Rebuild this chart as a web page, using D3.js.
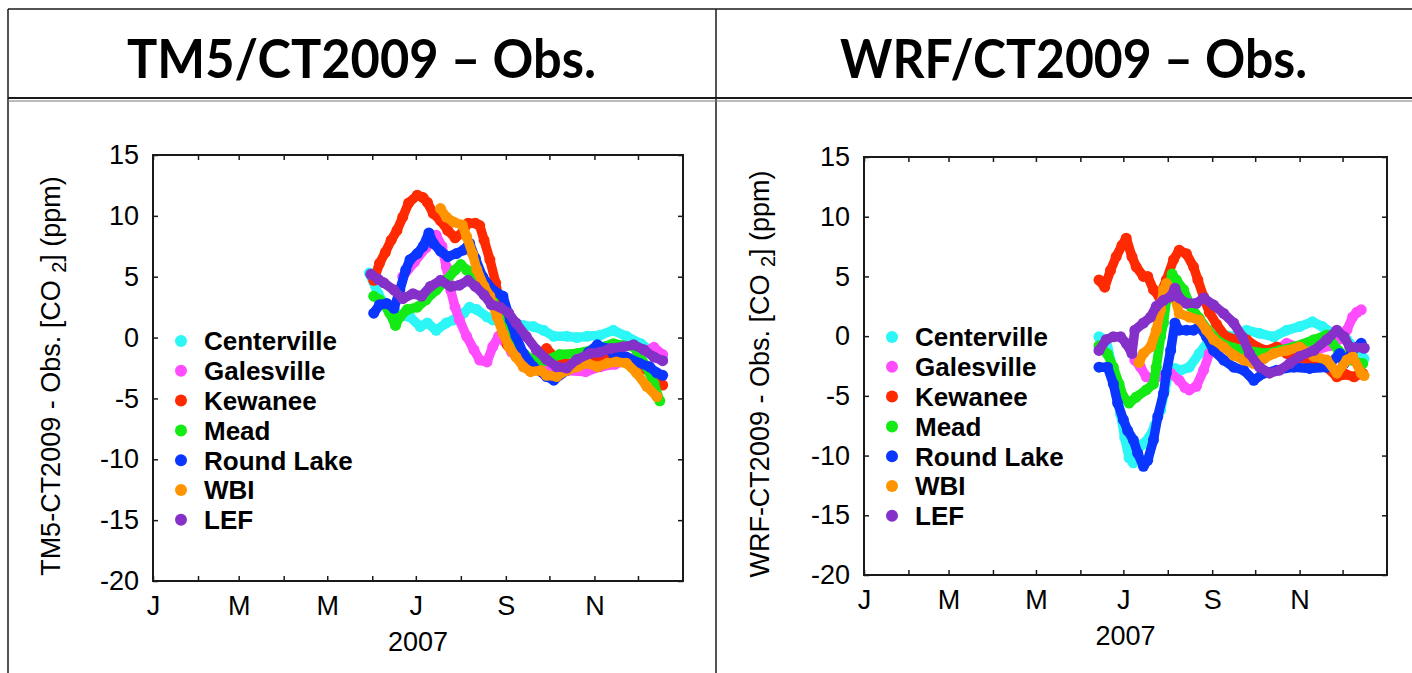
<!DOCTYPE html>
<html><head><meta charset="utf-8">
<script src="https://cdn.jsdelivr.net/npm/d3@7"></script>
<style>body{margin:0;background:#fff}svg{display:block}</style>
</head><body>
<svg id="c" width="1412" height="673"></svg>
<script>
// ---------- data ----------
const monthLetters = ["J","F","M","A","M","J","J","A","S","O","N","D"];
const yTicks = [-20,-15,-10,-5,0,5,10,15];
const yearLabel = "2007";
const stations = ["Centerville","Galesville","Kewanee","Mead","Round Lake","WBI","LEF"];
const stationColors = ["#2cf6f6","#ff4cff","#ff2a00","#14ea14","#0a36ff","#ff9400","#8530c8"];
const titles = ["TM5/CT2009 \u2013 Obs.","WRF/CT2009 \u2013 Obs."];
const yLabelModels = ["TM5-CT2009","WRF-CT2009"];

// values: [day of year 2007 (0 = Jan 1), model - obs (ppm)]
const tm5Centerville = [[149,5.3],[155,3.6],[162,2.3],[170,1.8],[177,1.7],[184,0.9],[189,1.2],[195,0.6],[202,1.2],[207,1.45],[214,2.0],[218,2.5],[223,2.3],[230,1.7],[234,1.45],[240,1.3],[248,1.2],[255,1.0],[262,0.9],[269,0.6],[276,0.1],[285,0.1],[292,0.0],[299,0.1],[308,0.2],[317,0.6],[326,0.1],[336,-0.5],[345,-1.3],[351,-1.6]];
const tm5Galesville = [[172,5.0],[180,6.2],[188,7.4],[195,8.4],[199,7.5],[202,5.8],[205,3.9],[208,2.5],[211,1.45],[216,0.1],[221,-1.0],[225,-1.85],[230,-2.0],[234,-0.75],[238,0.1],[242,-0.3],[247,-1.2],[255,-2.0],[265,-2.4],[275,-2.6],[285,-2.7],[298,-2.8],[308,-2.4],[318,-2.2],[328,-1.8],[338,-1.2],[345,-0.8],[351,-1.4]];
const tm5Kewanee = [[152,4.7],[156,6.1],[160,7.0],[164,8.0],[168,8.8],[172,9.9],[176,11.05],[182,11.7],[186,11.5],[189,11.1],[193,10.2],[198,9.6],[203,8.8],[208,8.2],[213,8.6],[217,9.4],[222,9.4],[225,9.2],[228,8.0],[232,6.4],[236,4.5],[239,2.5],[241,0.5],[244,-0.6],[250,-1.3],[258,-2.0],[265,-1.6],[271,-0.9],[278,-1.8],[288,-2.2],[298,-1.9],[308,-1.7],[318,-1.8],[328,-2.0],[336,-2.4],[344,-3.0],[351,-3.9]];
const tm5Mead = [[152,3.4],[156,3.1],[160,2.6],[163,2.0],[167,1.0],[170,1.7],[175,2.3],[182,2.5],[188,3.1],[195,3.9],[202,4.7],[208,5.55],[212,6.0],[216,5.55],[222,5.3],[228,4.2],[234,3.0],[240,1.5],[245,0.3],[250,-0.75],[256,-1.4],[262,-1.85],[270,-1.9],[280,-1.4],[292,-1.3],[303,-1.0],[317,-0.5],[331,-0.75],[340,-2.4],[345,-3.8],[349,-5.2]];
const tm5RoundLake = [[152,2.0],[156,2.7],[161,2.8],[166,2.4],[170,3.9],[174,5.55],[177,6.4],[182,6.9],[186,7.5],[190,8.6],[193,7.75],[198,7.1],[203,6.65],[209,6.9],[214,7.2],[218,7.75],[222,6.5],[227,5.0],[234,3.9],[241,3.4],[246,1.45],[250,0.1],[255,-1.3],[262,-2.4],[271,-3.2],[276,-3.5],[285,-2.7],[294,-2.1],[300,-1.2],[306,-0.6],[312,-0.9],[317,-1.3],[326,-1.6],[335,-2.1],[342,-2.4],[347,-2.9],[351,-3.1]];
const tm5WBI = [[198,10.6],[202,9.9],[207,9.5],[213,9.25],[216,8.3],[220,6.9],[223,5.6],[228,4.2],[232,3.4],[237,1.7],[241,0.35],[245,-0.75],[250,-1.6],[255,-2.4],[260,-2.8],[267,-2.7],[271,-3.1],[278,-3.2],[285,-2.7],[292,-2.4],[299,-2.1],[306,-2.4],[313,-2.1],[319,-2.0],[326,-2.1],[333,-2.9],[340,-4.0],[347,-4.85]];
const tm5LEF = [[150,5.2],[155,4.8],[159,4.5],[166,3.9],[172,3.2],[179,3.6],[185,3.4],[191,4.2],[198,4.7],[205,4.2],[211,4.3],[217,4.7],[222,4.2],[228,3.5],[233,2.7],[239,2.5],[245,2.0],[250,1.2],[257,0.1],[264,-1.0],[271,-1.8],[278,-2.4],[285,-2.5],[292,-1.8],[301,-1.3],[308,-1.2],[315,-0.9],[324,-0.75],[331,-0.6],[338,-1.0],[345,-1.6],[351,-1.9]];

const wrfCenterville = [[164,-0.05],[169,-0.3],[173,-2.5],[176,-4.5],[179,-6.5],[182,-8.5],[185,-10.2],[188,-10.6],[191,-9.5],[195,-9.0],[199,-8.5],[203,-7.5],[207,-6.2],[210,-4.5],[213,-2.8],[217,-2.7],[221,-2.85],[227,-2.6],[234,-1.45],[241,-0.3],[248,0.24],[258,-0.05],[267,0.5],[276,0.24],[286,-0.05],[295,0.5],[304,0.8],[313,1.2],[320,0.8],[327,0.24],[337,-0.3],[346,-1.45],[349,-1.9]];
const wrfGalesville = [[189,-2.0],[193,-2.6],[197,-3.4],[202,-3.6],[208,-3.3],[214,-3.1],[220,-3.7],[224,-4.3],[227,-4.5],[232,-4.2],[237,-2.85],[241,-1.45],[246,-0.6],[252,-0.6],[260,-1.2],[270,-1.6],[280,-1.4],[290,-1.0],[295,-0.6],[305,-1.0],[315,-1.2],[325,-0.8],[333,-0.2],[337,0.5],[341,1.6],[344,2.0],[347,2.2]];
const wrfKewanee = [[164,4.7],[168,4.1],[172,5.5],[176,6.65],[180,7.6],[183,8.2],[187,6.65],[190,5.8],[195,5.0],[198,5.0],[202,3.9],[206,3.3],[211,4.7],[216,6.4],[220,7.2],[225,6.9],[230,5.8],[233,4.7],[237,3.3],[241,2.0],[246,1.0],[252,0.0],[260,-0.3],[267,-0.3],[274,-0.9],[281,-1.2],[288,-0.9],[295,-1.45],[305,-1.8],[315,-2.2],[323,-2.6],[330,-3.4],[336,-3.2],[342,-3.4],[348,-3.1]];
const wrfMead = [[164,-0.8],[170,-1.5],[174,-2.6],[178,-4.0],[181,-5.1],[185,-5.6],[190,-5.1],[197,-4.5],[202,-4.0],[204,-2.6],[207,-0.05],[209,1.1],[211,3.0],[215,5.2],[218,4.7],[223,3.9],[228,2.5],[234,1.5],[240,0.5],[248,-0.5],[258,-1.0],[267,-1.2],[281,-1.45],[290,-1.2],[300,-0.9],[314,-0.3],[323,0.1],[331,-1.2],[339,-2.0],[348,-2.3]];
const wrfRoundLake = [[164,-2.6],[170,-2.6],[174,-4.0],[177,-5.6],[181,-7.0],[184,-7.9],[188,-8.7],[191,-9.8],[195,-10.9],[198,-10.4],[202,-8.7],[205,-6.75],[209,-4.8],[211,-3.1],[214,-1.2],[217,1.1],[220,0.5],[225,0.5],[230,0.5],[234,0.8],[239,-0.05],[244,-1.2],[251,-2.0],[258,-2.6],[265,-2.85],[272,-3.7],[279,-3.1],[288,-2.85],[300,-2.6],[311,-2.7],[323,-2.6],[332,-1.45],[335,-2.3],[341,-1.2],[347,-0.6],[349,-1.0]];
const wrfWBI = [[192,-2.2],[195,-1.45],[200,-0.9],[204,0.5],[207,2.2],[209,3.9],[211,4.4],[216,3.6],[220,1.9],[227,1.6],[234,1.35],[239,0.5],[244,-0.3],[251,-0.9],[258,-1.6],[265,-2.0],[272,-2.3],[279,-1.9],[286,-1.45],[295,-1.2],[304,-0.9],[314,-1.7],[323,-2.0],[330,-3.1],[337,-2.0],[341,-1.7],[347,-3.1],[349,-3.3]];
const wrfLEF = [[164,-1.2],[169,-0.3],[174,-0.05],[179,-0.05],[183,-0.6],[187,-1.45],[189,0.5],[195,1.1],[200,1.6],[204,2.5],[209,3.0],[214,3.3],[217,4.0],[220,3.2],[225,2.75],[232,2.75],[237,3.2],[244,2.6],[251,1.9],[258,1.1],[264,-0.05],[269,-1.45],[276,-2.6],[283,-3.1],[290,-2.85],[297,-2.3],[304,-1.7],[314,-1.2],[323,-0.3],[330,0.5],[335,-0.05],[339,-0.9],[349,-1.0]];

const tm5Series = [tm5Centerville,tm5Galesville,tm5Kewanee,tm5Mead,tm5RoundLake,tm5WBI,tm5LEF];
const wrfSeries = [wrfCenterville,wrfGalesville,wrfKewanee,wrfMead,wrfRoundLake,wrfWBI,wrfLEF];

// ---------- drawing ----------
const svg = d3.select("#c");
const ink = "#1a1a1a";
const FONT = "'Liberation Sans', Arial, Helvetica, sans-serif";

// table frame
const frame = svg.append("g").attr("stroke", ink).attr("fill","none");
frame.append("line").attr("x1",8).attr("x2",1412).attr("y1",9).attr("y2",9).attr("stroke-width",1.5);
frame.append("line").attr("x1",8).attr("x2",8).attr("y1",9).attr("y2",673).attr("stroke-width",1.5);
frame.append("line").attr("x1",716).attr("x2",716).attr("y1",9).attr("y2",673).attr("stroke-width",1.5);
frame.append("line").attr("x1",8).attr("x2",1412).attr("y1",98).attr("y2",98).attr("stroke-width",2);
frame.append("line").attr("x1",8).attr("x2",1412).attr("y1",101).attr("y2",101).attr("stroke-width",1).attr("stroke","#777");

const panels = [
  {title: titles[0], tx0:127, tx1:596, model: yLabelModels[0], series: tm5Series,
   x0:153, x1:683, y0:155, y1:581, labelX:60, legX:181, legY:341},
  {title: titles[1], tx0:840, tx1:1307, model: yLabelModels[1], series: wrfSeries,
   x0:864, x1:1387, y0:157, y1:575, labelX:769, legX:892, legY:337}
];

const t0 = new Date(Date.UTC(2007,0,1)), t1 = new Date(Date.UTC(2008,0,1));
const dayToDate = d => new Date(Date.UTC(2007,0,1+d));
const monthTicks = d3.utcMonth.range(t0, t1);

panels.forEach(p => {
  // title
  svg.append("text").attr("x", p.tx0).attr("y", 78)
    .attr("font-family","Lato, 'Open Sans', sans-serif").attr("font-weight",700)
    .attr("font-size",54).attr("fill","#000")
    .attr("textLength", p.tx1 - p.tx0).attr("lengthAdjust","spacingAndGlyphs")
    .text(p.title);

  const x = d3.scaleUtc().domain([t0,t1]).range([p.x0,p.x1]);
  const y = d3.scaleLinear().domain([-20,15]).range([p.y1,p.y0]);
  const g = svg.append("g");

  // data
  const line = d3.line().x(d => x(dayToDate(d[0]))).y(d => y(d[1]));
  p.series.forEach((s,i) => {
    const sg = g.append("g");
    sg.append("path").attr("d", line(s)).attr("fill","none")
      .attr("stroke", stationColors[i]).attr("stroke-width",9.5)
      .attr("stroke-linejoin","round").attr("stroke-linecap","round");
    sg.selectAll("circle").data(s).join("circle")
      .attr("cx", d => x(dayToDate(d[0]))).attr("cy", d => y(d[1]))
      .attr("r",5.5).attr("fill", stationColors[i]);
  });

  // axes
  const xb = d3.axisBottom(x).tickValues(monthTicks).tickSize(-5).tickPadding(15)
    .tickFormat(d => d.getUTCMonth()%2===0 ? monthLetters[d.getUTCMonth()] : "");
  const xt = d3.axisTop(x).tickValues(monthTicks).tickSize(-5).tickFormat("");
  const yl = d3.axisLeft(y).tickValues(yTicks).tickSize(-5).tickPadding(14).tickFormat(d => String(d));
  const yr = d3.axisRight(y).tickValues(yTicks).tickSize(-5).tickFormat("");
  const styleAxis = sel => {
    sel.select(".domain").remove();
    sel.selectAll(".tick line").attr("stroke", ink).attr("stroke-width",1.5);
    sel.selectAll("text").attr("font-family",FONT).attr("font-size",27).attr("fill","#000");
  };
  g.append("g").attr("transform",`translate(0,${p.y1})`).call(xb).call(styleAxis);
  g.append("g").attr("transform",`translate(0,${p.y0})`).call(xt).call(styleAxis);
  g.append("g").attr("transform",`translate(${p.x0},0)`).call(yl).call(styleAxis);
  g.append("g").attr("transform",`translate(${p.x1},0)`).call(yr).call(styleAxis);
  g.append("rect").attr("x",p.x0).attr("y",p.y0).attr("width",p.x1-p.x0).attr("height",p.y1-p.y0)
    .attr("fill","none").attr("stroke",ink).attr("stroke-width",2);

  // x title
  g.append("text").attr("x",(p.x0+p.x1)/2).attr("y",p.y1+70).attr("text-anchor","middle")
    .attr("font-family",FONT).attr("font-size",27).attr("fill","#000").text(yearLabel);

  // y title
  const yt = g.append("text")
    .attr("transform",`translate(${p.labelX},${(p.y0+p.y1)/2+8}) rotate(-90)`)
    .attr("text-anchor","middle").attr("font-family",FONT).attr("font-size",27).attr("fill","#000");
  yt.append("tspan").text(p.model + " - Obs. [CO ");
  yt.append("tspan").attr("font-size",20).attr("dy",6).text("2");
  yt.append("tspan").attr("dy",-6).text("] (ppm)");

  // legend
  const lg = g.append("g");
  stations.forEach((name,i) => {
    const ly = p.legY + i*29.8;
    lg.append("circle").attr("cx",p.legX).attr("cy",ly).attr("r",6).attr("fill",stationColors[i]);
    lg.append("text").attr("x",p.legX+23).attr("y",ly).attr("dy","0.36em")
      .attr("font-family",FONT).attr("font-weight",700).attr("font-size",26).attr("fill","#000").text(name);
  });
});
</script>
</body></html>
